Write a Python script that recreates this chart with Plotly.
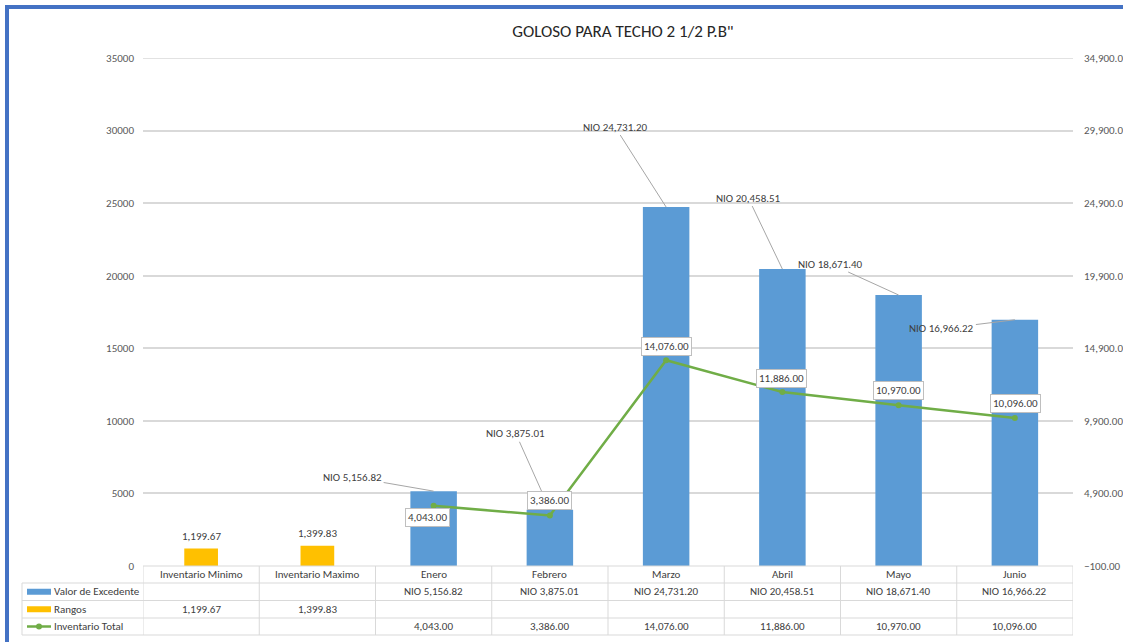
import plotly.graph_objects as go

# ---------------- data ----------------
categories = ["Inventario Minimo", "Inventario Maximo", "Enero", "Febrero",
              "Marzo", "Abril", "Mayo", "Junio"]
valor_excedente = [None, None, 5156.82, 3875.01, 24731.20, 20458.51, 18671.40, 16966.22]
rangos = [1199.67, 1399.83, None, None, None, None, None, None]
inventario_total = [None, None, 4043.00, 3386.00, 14076.00, 11886.00, 10970.00, 10096.00]
series_names = ["Valor de Excedente", "Rangos", "Inventario Total"]
title_text = 'GOLOSO PARA TECHO 2 1/2 P.B"'
y1_range = [0, 35000]
y2_range = [-100, 34900]

# ---------------- style ----------------
W, H = 1123, 642
PL, PR, PT, PB = 143, 1073, 58, 566
FONT = "Carlito, Calibri, 'Liberation Sans Narrow', 'Open Sans', sans-serif"
BLUE, YELLOW, GREEN = "#5B9BD5", "#FFC000", "#70AD47"
GRID = "#D9D9D9"
TXT = "#404040"
TICK = "#595959"


def px(x):
    return (x - PL) / (PR - PL)


def py(y):
    return (PB - y) / (PB - PT)


fig = go.Figure()

fig.add_trace(go.Bar(x=categories, y=valor_excedente, name=series_names[0],
                     marker=dict(color=BLUE, line=dict(width=0)), width=0.40,
                     yaxis="y", showlegend=False))
fig.add_trace(go.Bar(x=categories, y=rangos, name=series_names[1],
                     marker=dict(color=YELLOW, line=dict(width=0)), width=0.29,
                     yaxis="y", showlegend=False))
fig.add_trace(go.Scatter(x=categories, y=inventario_total, name=series_names[2],
                         mode="lines+markers", line=dict(color=GREEN, width=2.5),
                         marker=dict(color=GREEN, size=6), yaxis="y2",
                         showlegend=False, connectgaps=False))

annotations = []
shapes = []

# top gridline at the axis maximum
shapes.append(dict(type="line", xref="paper", yref="y", x0=0, x1=1,
                   y0=y1_range[1], y1=y1_range[1], line=dict(color=GRID, width=1.5), layer="below"))

# yellow bar labels
for cat, v in zip(categories, rangos):
    if v is None:
        continue
    annotations.append(dict(x=cat, y=v, xref="x", yref="y", text=f"{v:,.2f}",
                            showarrow=False, xanchor="center", yanchor="middle", yshift=12,
                            font=dict(family=FONT, size=11, color=TXT)))

# blue bar labels with leader lines
bar_offsets = [None, None, (-81, -14), (-34, -76), (-51, -80), (-34, -71), (-68, -31), (-73, 9)]
for cat, v, off in zip(categories, valor_excedente, bar_offsets):
    if v is None:
        continue
    annotations.append(dict(x=cat, y=v, xref="x", yref="y", text=f"NIO {v:,.2f}",
                            showarrow=True, arrowhead=0, arrowwidth=1, arrowcolor="#A6A6A6",
                            ax=off[0], ay=off[1], standoff=0,
                            font=dict(family=FONT, size=11, color=TXT)))

# line labels (boxed)
line_shifts = [None, None, (-6, -12), (0, 15), (0, 14), (-1, 14), (0, 15), (1, 15)]
for cat, v, sh in zip(categories, inventario_total, line_shifts):
    if v is None:
        continue
    annotations.append(dict(x=cat, y=v, xref="x", yref="y2", text=f"{v:,.2f}",
                            showarrow=False, xshift=sh[0], yshift=sh[1],
                            xanchor="center", yanchor="middle",
                            bgcolor="white", bordercolor="#BFBFBF", borderwidth=1, borderpad=2,
                            font=dict(family=FONT, size=11, color=TXT)))

# ---------------- data table ----------------
row_edges = [566, 583, 600.5, 618, 635]
tcol = "#D9D9D9"
shapes.append(dict(type="line", xref="x", yref="paper", x0=-0.5, x1=len(categories) - 0.5,
                   y0=py(row_edges[0]), y1=py(row_edges[0]), line=dict(color=tcol, width=1)))
for ry in row_edges[1:]:
    shapes.append(dict(type="line", xref="paper", yref="paper", x0=px(22), x1=1,
                       y0=py(ry), y1=py(ry), line=dict(color=tcol, width=1)))
for i in range(len(categories) + 1):
    shapes.append(dict(type="line", xref="x", yref="paper", x0=i - 0.5, x1=i - 0.5,
                       y0=py(row_edges[0]), y1=py(row_edges[-1]), line=dict(color=tcol, width=1)))
shapes.append(dict(type="line", xref="paper", yref="paper", x0=px(22), x1=px(22),
                   y0=py(row_edges[1]), y1=py(row_edges[-1]), line=dict(color=tcol, width=1)))

row_centers = [(row_edges[k] + row_edges[k + 1]) / 2 for k in range(4)]


def cell(cat, row, text):
    annotations.append(dict(x=cat, y=py(row_centers[row]), xref="x", yref="paper", text=text,
                            showarrow=False, xanchor="center", yanchor="middle",
                            font=dict(family=FONT, size=11, color=TXT)))


for cat in categories:
    cell(cat, 0, cat)
for cat, v in zip(categories, valor_excedente):
    if v is not None:
        cell(cat, 1, f"NIO {v:,.2f}")
for cat, v in zip(categories, rangos):
    if v is not None:
        cell(cat, 2, f"{v:,.2f}")
for cat, v in zip(categories, inventario_total):
    if v is not None:
        cell(cat, 3, f"{v:,.2f}")

# legend keys in table
for k, name in enumerate(series_names):
    annotations.append(dict(x=px(52), y=py(row_centers[k + 1]), xref="paper", yref="paper",
                            text=name, showarrow=False, xanchor="left", yanchor="middle",
                            font=dict(family=FONT, size=11, color=TXT)))
for k, col in enumerate([BLUE, YELLOW]):
    c = row_centers[k + 1]
    shapes.append(dict(type="rect", xref="paper", yref="paper", x0=px(27), x1=px(51),
                       y0=py(c - 3), y1=py(c + 3), fillcolor=col, line=dict(width=0)))
c = row_centers[3]
shapes.append(dict(type="line", xref="paper", yref="paper", x0=px(27), x1=px(51),
                   y0=py(c), y1=py(c), line=dict(color=GREEN, width=2.5)))
shapes.append(dict(type="circle", xref="paper", yref="paper", x0=px(36), x1=px(42),
                   y0=py(c - 3), y1=py(c + 3), fillcolor=GREEN, line=dict(width=0)))

# outer blue frame (left and top)
shapes.append(dict(type="line", xref="paper", yref="paper", x0=px(7), x1=px(7),
                   y0=py(5), y1=py(H + 5), line=dict(color="#4472C4", width=4)))
shapes.append(dict(type="line", xref="paper", yref="paper", x0=px(5), x1=px(W + 5),
                   y0=py(7), y1=py(7), line=dict(color="#4472C4", width=4)))

fig.update_layout(
    width=W, height=H, autosize=False,
    margin=dict(l=PL, r=W - PR, t=PT, b=H - PB, pad=0, autoexpand=False),
    paper_bgcolor="white", plot_bgcolor="white",
    barmode="overlay", showlegend=False,
    title=dict(text=title_text, x=623 / W, xanchor="center", xref="container",
               y=1 - 31 / H, yanchor="middle", yref="container",
               font=dict(family=FONT, size=17, color="#262626")),
    xaxis=dict(type="category", categoryorder="array", categoryarray=categories,
               range=[-0.5, len(categories) - 0.5], showticklabels=False, ticks="",
               showgrid=False, showline=False, zeroline=False, automargin=False),
    yaxis=dict(range=y1_range, dtick=5000, tick0=0, showgrid=True, gridcolor=GRID,
               gridwidth=1.5, zeroline=False, showline=False, ticks="",
               tickformat="d", ticklabelstandoff=8, automargin=False,
               tickfont=dict(family=FONT, size=11, color=TICK)),
    yaxis2=dict(range=y2_range, dtick=5000, tick0=y2_range[0], overlaying="y", side="right",
                showgrid=False, zeroline=False, showline=False, ticks="",
                tickformat=",.2f", ticklabelstandoff=10, automargin=False,
                tickfont=dict(family=FONT, size=11, color=TICK)),
    annotations=annotations, shapes=shapes,
    font=dict(family=FONT, size=11, color=TXT),
)

fig.write_html("out.html")
